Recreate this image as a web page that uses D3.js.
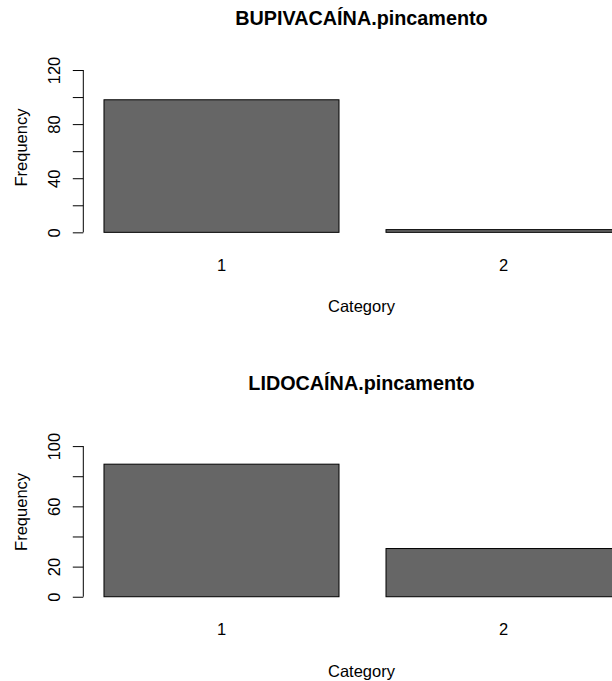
<!DOCTYPE html>
<html>
<head>
<meta charset="utf-8">
<script src="https://cdn.jsdelivr.net/npm/d3@7"></script>
<style>
  html, body { margin: 0; padding: 0; background: #fff; }
  svg { display: block; }
  text { font-family: "Liberation Sans", Arial, sans-serif; fill: #000; }
</style>
</head>
<body>
<script>
// Frequency tables for the two anaesthetics
const categories = ["1", "2"];
const bupivacainaFreq = [98, 2];
const lidocainaFreq = [88, 32];

// Y-axis ticks and the subset that carries a label
const bupivacainaTicks = [0, 20, 40, 60, 80, 100, 120];
const bupivacainaTickLabels = [0, 40, 80, 120];
const lidocainaTicks = [0, 20, 40, 60, 80, 100];
const lidocainaTickLabels = [0, 20, 60, 100];

const panelTitles = ["BUPIVACAÍNA.pincamento", "LIDOCAÍNA.pincamento"];
const xLabel = "Category";
const yLabel = "Frequency";

const W = 612, H = 681;
const svg = d3.select("body").append("svg").attr("width", W).attr("height", H);

// Layout of one panel (offsets relative to the panel's top)
const panelStep = 364.4;
const plot = { left: 83.3, right: 641.7, top: 66.9, bottom: 238.7 };
const baseFont = 16.5;

function drawPanel(g, title, values, ticks, tickLabels) {
  // bars sit at width 1 with 0.2 spacing, region padded 4% like R's barplot
  const x = d3.scaleLinear().domain([0.112, 2.488]).range([plot.left, plot.right]);
  const yMax = 1.2 * d3.max(values);
  const y = d3.scaleLinear()
    .domain([-0.04 * yMax, 1.04 * yMax])
    .range([plot.bottom, plot.top]);

  const bars = categories.map((c, i) => ({ c, v: values[i], l: 0.2 + 1.2 * i, r: 1.2 + 1.2 * i }));

  g.selectAll("rect.bar").data(bars).join("rect")
    .attr("class", "bar")
    .attr("x", d => x(d.l))
    .attr("width", d => x(d.r) - x(d.l))
    .attr("y", d => y(d.v))
    .attr("height", d => y(0) - y(d.v))
    .attr("fill", "#666666")
    .attr("stroke", "#000")
    .attr("stroke-width", 1);

  // category names under each bar
  g.selectAll("text.cat").data(bars).join("text")
    .attr("class", "cat")
    .attr("x", d => x((d.l + d.r) / 2))
    .attr("y", plot.bottom + 32.3)
    .attr("text-anchor", "middle")
    .attr("font-size", baseFont)
    .text(d => d.c);

  // left axis: ticks pointing outward, only some labelled
  const axis = d3.axisLeft(y)
    .tickValues(ticks)
    .tickSize(10.5)
    .tickSizeOuter(0)
    .tickFormat(d => tickLabels.includes(d) ? String(d) : "");
  const ag = g.append("g").attr("transform", `translate(${plot.left},0)`).call(axis);
  ag.select(".domain").remove();
  ag.append("line")
    .attr("x1", 0).attr("x2", 0)
    .attr("y1", y(d3.min(ticks))).attr("y2", y(d3.max(ticks)))
    .attr("stroke", "#000").attr("stroke-width", 1);
  ag.selectAll(".tick line").attr("stroke", "#000");
  ag.selectAll(".tick text")
    .attr("font-family", "Liberation Sans, Arial, sans-serif")
    .attr("font-size", baseFont)
    .attr("fill", "#000")
    .attr("x", null).attr("dy", null)
    .attr("text-anchor", "middle")
    .attr("transform", "translate(-23.3,0) rotate(-90)");

  // titles and axis labels
  g.append("text")
    .attr("x", 361.5).attr("y", 25.3)
    .attr("text-anchor", "middle")
    .attr("font-size", baseFont * 1.2)
    .attr("font-weight", "bold")
    .text(title);

  g.append("text")
    .attr("x", 361.5).attr("y", plot.bottom + 73.6)
    .attr("text-anchor", "middle")
    .attr("font-size", baseFont)
    .text(xLabel);

  g.append("text")
    .attr("transform", `translate(26.8,147.5) rotate(-90)`)
    .attr("text-anchor", "middle")
    .attr("font-size", baseFont)
    .text(yLabel);
}

drawPanel(svg.append("g"), panelTitles[0], bupivacainaFreq, bupivacainaTicks, bupivacainaTickLabels);
drawPanel(svg.append("g").attr("transform", `translate(0,${panelStep})`),
  panelTitles[1], lidocainaFreq, lidocainaTicks, lidocainaTickLabels);
</script>
</body>
</html>
